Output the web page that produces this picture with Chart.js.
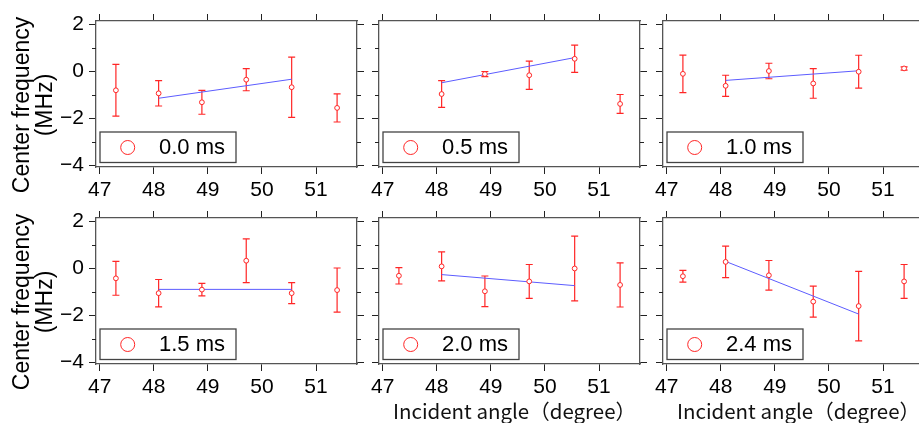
<!DOCTYPE html>
<html>
<head>
<meta charset="utf-8">
<script src="https://cdn.jsdelivr.net/npm/chart.js@4/dist/chart.umd.min.js"></script>
<style>
  html, body { margin: 0; padding: 0; background: #fff; width: 919px; height: 423px; overflow: hidden; position: relative; }
  canvas { position: absolute; }
</style>
</head>
<body>
<script>
// Incident angles (degree) at which the centre frequency was measured
const angles = [47.3, 48.09, 48.89, 49.71, 50.55, 51.39];

// Delay of each panel
const delayLabels = ['0.0 ms', '0.5 ms', '1.0 ms', '1.5 ms', '2.0 ms', '2.4 ms'];

// Centre frequency shift (MHz) and its error, one pair per delay
const freq00 = [-0.82, -0.95, -1.33, -0.37, -0.69, -1.57];
const err00  = [ 1.10,  0.54,  0.51,  0.47,  1.28,  0.60];
const freq05 = [ null, -0.98, -0.13, -0.18,  0.52, -1.40];
const err05  = [ null,  0.57,  0.11,  0.60,  0.58,  0.40];
const freq10 = [-0.12, -0.63,  0.00, -0.53, -0.03,  0.11];
const err10  = [ 0.80,  0.45,  0.33,  0.63,  0.70,  0.07];
const freq15 = [-0.44, -1.07, -0.92,  0.31, -1.07, -0.94];
const err15  = [ 0.72,  0.58,  0.27,  0.93,  0.45,  0.94];
const freq20 = [-0.33,  0.07, -0.99, -0.57, -0.02, -0.72];
const err20  = [ 0.35,  0.62,  0.65,  0.72,  1.38,  0.94];
const freq24 = [-0.35,  0.26, -0.31, -1.43, -1.62, -0.57];
const err24  = [ 0.25,  0.67,  0.63,  0.66,  1.48,  0.72];

// Linear fit over the inner angles
const fitAngles = [48.09, 50.55];
const fit00 = [-1.16, -0.35];
const fit05 = [-0.50,  0.57];
const fit10 = [-0.40,  0.01];
const fit15 = [-0.91, -0.91];
const fit20 = [-0.28, -0.75];
const fit24 = [ 0.28, -1.96];

// Axis ticks and titles
const xTicks = [47, 48, 49, 50, 51];
const yTicks = [-4, -2, 0, 2];
const yMinorTicks = [-3, -1, 1];
const yTitleLines = ['Center frequency', '(MHz)'];
const xTitle = 'Incident angle（degree）';

const freqs = [freq00, freq05, freq10, freq15, freq20, freq24];
const errs  = [err00, err05, err10, err15, err20, err24];
const fits  = [fit00, fit05, fit10, fit15, fit20, fit24];

// Panel geometry
const X_MIN = 46.932, X_MAX = 51.758;
const Y_MIN = -4.085, Y_MAX = 2.128;
const COL_LEFT = [96, 379, 663];
const ROW_TOP = [21, 218];
const BOX_W = 261, BOX_H = 146;

const RED = '#ff2626';
const BLUE = 'rgb(92,92,255)';
const FONT = 'Liberation Sans, Arial, sans-serif';

const errorBars = {
  id: 'errorBars',
  beforeDatasetsDraw(chart) {
    const { ctx } = chart;
    const xs = chart.scales.x, ys = chart.scales.y;
    const pts = chart.data.datasets[0].data;
    ctx.save();
    ctx.strokeStyle = RED;
    ctx.lineWidth = 1.2;
    pts.forEach(p => {
      const px = xs.getPixelForValue(p.x);
      const yHi = ys.getPixelForValue(p.y + p.e);
      const yLo = ys.getPixelForValue(p.y - p.e);
      ctx.beginPath();
      ctx.moveTo(px, yHi); ctx.lineTo(px, yLo);
      ctx.moveTo(px - 3.5, yHi); ctx.lineTo(px + 3.5, yHi);
      ctx.moveTo(px - 3.5, yLo); ctx.lineTo(px + 3.5, yLo);
      ctx.stroke();
    });
    ctx.restore();
  }
};

const decor = {
  id: 'decor',
  afterDraw(chart, args, opts) {
    const { ctx, chartArea: a } = chart;
    const ys = chart.scales.y;
    ctx.save();
    // minor ticks on both vertical edges
    ctx.strokeStyle = '#222';
    ctx.lineWidth = 1;
    yMinorTicks.forEach(v => {
      const py = Math.round(ys.getPixelForValue(v)) + 0.5;
      ctx.beginPath();
      ctx.moveTo(a.left - 4, py); ctx.lineTo(a.left, py);
      ctx.moveTo(a.right, py); ctx.lineTo(a.right + 4, py);
      ctx.stroke();
    });
    // legend box
    const lx = a.left + 4, ly = a.bottom - 35, lw = 136, lh = 30.5;
    ctx.fillStyle = '#fff';
    ctx.fillRect(lx, ly, lw, lh);
    ctx.strokeStyle = '#444';
    ctx.lineWidth = 1.3;
    ctx.strokeRect(lx, ly, lw, lh);
    ctx.beginPath();
    ctx.arc(a.left + 31.7, a.bottom - 19.5, 7, 0, Math.PI * 2);
    ctx.strokeStyle = RED;
    ctx.lineWidth = 1;
    ctx.stroke();
    ctx.fillStyle = '#000';
    ctx.font = '22px ' + FONT;
    ctx.textAlign = 'left';
    ctx.textBaseline = 'middle';
    ctx.fillText(opts.label, a.left + 63, a.bottom - 19);
    // y title on the left column
    if (opts.yTitle) {
      const cy = (a.top + a.bottom) / 2 + 11;
      ctx.font = '23px ' + FONT;
      ctx.textAlign = 'center';
      [23, 46].forEach((cx, k) => {
        ctx.save();
        ctx.translate(cx, cy);
        ctx.rotate(-Math.PI / 2);
        ctx.fillText(yTitleLines[k], 0, 0);
        ctx.restore();
      });
    }
    // x title under the lower middle and right panels
    if (opts.xTitle) {
      ctx.font = '20.5px "Noto Sans CJK JP"';
      ctx.fillStyle = '#111';
      ctx.textAlign = 'center';
      ctx.fillText(xTitle, (a.left + a.right) / 2 + 5, a.bottom + 47);
    }
    ctx.restore();
  }
};

function fmtY(v) {
  return v < 0 ? '\u2212' + (-v) : String(v);
}

function makePanel(i) {
  const col = i % 3, row = Math.floor(i / 3);
  const L = col === 0 ? 96 : 16, R = 16, T = 20, B = row === 0 ? 30 : 59;
  const w = L + BOX_W + R, h = T + BOX_H + B;
  const cv = document.createElement('canvas');
  cv.width = w; cv.height = h;
  cv.style.left = (COL_LEFT[col] - L) + 'px';
  cv.style.top = (ROW_TOP[row] - T) + 'px';
  cv.style.width = w + 'px';
  cv.style.height = h + 'px';
  document.body.appendChild(cv);

  const points = [];
  angles.forEach((a, k) => {
    if (freqs[i][k] !== null) points.push({ x: a, y: freqs[i][k], e: errs[i][k] });
  });
  const fitLine = fitAngles.map((a, k) => ({ x: a, y: fits[i][k] }));

  const grid = { drawOnChartArea: false, drawTicks: true, tickLength: 7, tickColor: '#222', tickWidth: 1 };
  const border = { display: true, color: '#555', width: 1.3 };
  const setX = s => { s.ticks = xTicks.map(v => ({ value: v })); };
  const setY = s => { s.ticks = yTicks.map(v => ({ value: v })); };

  new Chart(cv, {
    type: 'scatter',
    data: {
      datasets: [
        {
          type: 'scatter',
          data: points,
          pointRadius: 2.4,
          pointBorderWidth: 1,
          pointBorderColor: RED,
          pointBackgroundColor: '#fff',
          order: 1
        },
        {
          type: 'line',
          data: fitLine,
          borderColor: BLUE,
          borderWidth: 1,
          pointRadius: 0,
          fill: false,
          tension: 0,
          order: 2
        }
      ]
    },
    options: {
      responsive: false,
      animation: false,
      events: [],
      devicePixelRatio: 1,
      layout: { padding: 0 },
      plugins: {
        legend: { display: false },
        tooltip: { enabled: false },
        decor: { label: delayLabels[i], yTitle: col === 0, xTitle: row === 1 && col > 0 }
      },
      scales: {
        x: {
          type: 'linear', position: 'bottom', min: X_MIN, max: X_MAX,
          afterBuildTicks: setX,
          afterFit: s => { s.height = B; },
          grid, border,
          ticks: { color: '#000', font: { family: FONT, size: 21 }, padding: 4, maxRotation: 0, autoSkip: false }
        },
        x2: {
          type: 'linear', position: 'top', min: X_MIN, max: X_MAX,
          afterBuildTicks: setX,
          afterFit: s => { s.height = T; },
          grid, border,
          ticks: { display: false }
        },
        y: {
          type: 'linear', position: 'left', min: Y_MIN, max: Y_MAX,
          afterBuildTicks: setY,
          afterFit: s => { s.width = L; },
          grid, border,
          ticks: { display: col === 0, color: '#000', font: { family: FONT, size: 21 }, padding: 5, callback: v => fmtY(v) }
        },
        y2: {
          type: 'linear', position: 'right', min: Y_MIN, max: Y_MAX,
          afterBuildTicks: setY,
          afterFit: s => { s.width = R; },
          grid, border,
          ticks: { display: false }
        }
      }
    },
    plugins: [errorBars, decor]
  });
}

for (let i = 0; i < 6; i++) makePanel(i);
</script>
</body>
</html>
